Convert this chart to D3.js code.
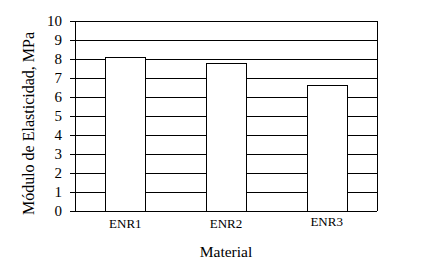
<!DOCTYPE html>
<html>
<head>
<meta charset="utf-8">
<script src="https://cdn.jsdelivr.net/npm/d3@7"></script>
<style>
	body { margin: 0; background: #fff; }
	text { font-family: "Liberation Serif", "Times New Roman", serif; fill: #000; }
</style>
</head>
<body>
<svg id="graph"></svg>
<script>
var materials = ["ENR1", "ENR2", "ENR3"];
var modulus = [8.1, 7.8, 6.65];
var yTicks = [0, 1, 2, 3, 4, 5, 6, 7, 8, 9, 10];

var margin = {top: 21, left: 75, right: 50, bottom: 58},
	width = 427 - margin.left - margin.right,
	height = 269 - margin.top - margin.bottom,
	graph = d3.select("#graph").attr("width", 427).attr("height", 269),
	g = graph.append("g").attr("transform", "translate(" + margin.left + "," + margin.top + ")");

var x = d3.scaleBand().domain(materials).range([0, width]).paddingInner(0.6).paddingOuter(0.3),
	y = d3.scaleLinear().domain([0, 10]).range([height, 0]);

// gridlines
g.append("g")
	.selectAll("line")
	.data(yTicks)
	.enter().append("line")
		.attr("x1", 0)
		.attr("x2", width)
		.attr("y1", function(d) { return Math.round(y(d)) + 0.5; })
		.attr("y2", function(d) { return Math.round(y(d)) + 0.5; })
		.attr("stroke", "#000")
		.attr("stroke-width", 1);

// right border
g.append("line")
	.attr("x1", width + 0.5).attr("x2", width + 0.5)
	.attr("y1", y(10)).attr("y2", y(0))
	.attr("stroke", "#000");

// bars
g.append("g")
	.selectAll("rect")
	.data(materials)
	.enter().append("rect")
		.attr("x", function(d) { return Math.round(x(d)) + 0.5; })
		.attr("y", function(d, i) { return Math.round(y(modulus[i])) + 0.5; })
		.attr("width", Math.round(x.bandwidth()))
		.attr("height", function(d, i) { return Math.round(y(0)) - Math.round(y(modulus[i])); })
		.attr("fill", "#fff")
		.attr("stroke", "#000")
		.attr("stroke-width", 1);

// y axis
var yAxis = d3.axisLeft(y).tickValues(yTicks).tickSize(5).tickPadding(8).tickFormat(d3.format("d"));
g.append("g")
	.attr("class", "axis")
	.call(yAxis)
	.call(function(s) {
		s.select(".domain").attr("stroke", "#000");
		s.selectAll("text").style("font-size", "15px").style("font-family", "Liberation Serif");
	});

// x labels
g.append("g")
	.selectAll("text")
	.data(materials)
	.enter().append("text")
		.attr("x", function(d) { return x(d) + x.bandwidth() / 2; })
		.attr("y", function(d, i) { return height + (i === 2 ? 15 : 16.5); })
		.attr("text-anchor", "middle")
		.style("font-size", "13px")
		.text(function(d) { return d; });

g.append("text")
	.attr("x", width / 2)
	.attr("y", height + 46)
	.attr("text-anchor", "middle")
	.style("font-size", "15.5px")
	.text("Material");

g.append("text")
	.attr("transform", "rotate(-90)")
	.attr("x", -102.5)
	.attr("y", -41)
	.attr("text-anchor", "middle")
	.style("font-size", "16px")
	.text("Módulo de Elasticidad, MPa");
</script>
</body>
</html>
